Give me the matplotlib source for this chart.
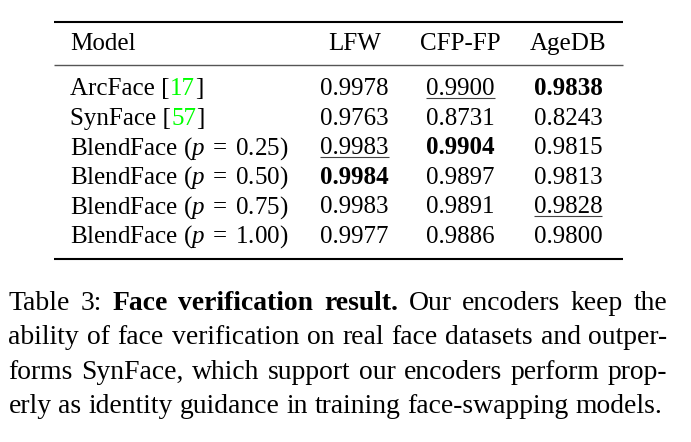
import matplotlib
matplotlib.use("Agg")
import matplotlib.pyplot as plt

plt.rcParams['font.family'] = ['Liberation Serif', 'DejaVu Serif']
plt.rcParams['mathtext.fontset'] = 'custom'
plt.rcParams['mathtext.rm'] = 'Liberation Serif'
plt.rcParams['mathtext.it'] = 'Liberation Serif:italic'
plt.rcParams['mathtext.bf'] = 'Liberation Serif:bold'

# ---- data ----
columns = ["Model", "LFW", "CFP-FP", "AgeDB"]
model_names = ["ArcFace", "SynFace", "BlendFace", "BlendFace", "BlendFace", "BlendFace"]
model_cites = ["17", "57", None, None, None, None]
model_p = [None, None, "0.25", "0.50", "0.75", "1.00"]
lfw = [0.9978, 0.9763, 0.9983, 0.9984, 0.9983, 0.9977]
cfp_fp = [0.9900, 0.8731, 0.9904, 0.9897, 0.9891, 0.9886]
agedb = [0.9838, 0.8243, 0.9815, 0.9813, 0.9828, 0.9800]
caption_lines = [
    [("Table", False), ("3:", False), ("Face", True), ("verification", True), ("result.", True),
     ("Our", False), ("encoders", False), ("keep", False), ("the", False)],
    [("ability", False), ("of", False), ("face", False), ("verification", False), ("on", False),
     ("real", False), ("face", False), ("datasets", False), ("and", False), ("outper-", False)],
    [("forms", False), ("SynFace,", False), ("which", False), ("support", False), ("our", False),
     ("encoders", False), ("perform", False), ("prop-", False)],
    [("erly", False), ("as", False), ("identity", False), ("guidance", False), ("in", False),
     ("training", False), ("face-swapping", False), ("models.", False)],
]

FS = 18.0
CFS = 19.9
W, H = 691, 442
fig = plt.figure(figsize=(W / 100, H / 100), dpi=100)
ax = fig.add_axes([0, 0, 1, 1])
ax.set_xlim(0, W)
ax.set_ylim(H, 0)
ax.axis('off')
fig.canvas.draw()
renderer = fig.canvas.get_renderer()


def width_of(t):
    return t.get_window_extent(renderer).width


def measure(s, size, **kw):
    t = ax.text(0, 0, s, fontsize=size, **kw)
    w = width_of(t)
    t.remove()
    return w


def draw_segments(x, y, segs, size):
    # each segment is right-aligned at the right edge of the measured prefix
    prefix = ""
    for s, kw in segs:
        prefix += s
        xr = x + measure(prefix, size)
        ax.text(xr, y, s, fontsize=size, va='baseline', ha='right', **kw)


# rules
x_left, x_right = 54, 623
ax.plot([x_left, x_right], [22, 22], color='black', lw=1.5, solid_capstyle='butt')
ax.plot([x_left, x_right], [64.5, 64.5], color='#555555', lw=1.0, solid_capstyle='butt')
ax.plot([x_left, x_right], [259, 259], color='black', lw=1.5, solid_capstyle='butt')

col_x = [70.5, 354.5, 460.5, 568]
header_y = 50
ax.text(col_x[0], header_y, columns[0], fontsize=FS, va='baseline', ha='left')
for j in range(1, 4):
    ax.text(col_x[j], header_y, columns[j], fontsize=FS, va='baseline', ha='center')

row_y0 = 95
row_dy = 29.6


def ranks(vals):
    distinct = sorted(set(vals), reverse=True)
    return vals.index(distinct[0]), vals.index(distinct[1])


for i in range(len(model_names)):
    y = row_y0 + i * row_dy
    if model_cites[i] is not None:
        segs = [(model_names[i] + " [", {}), (model_cites[i], {'color': '#00ff00'}), ("]", {})]
        draw_segments(col_x[0], y, segs, FS)
    else:
        ax.text(col_x[0], y, model_names[i] + r" ($p\;=\;$" + model_p[i] + ")",
                fontsize=FS, va='baseline', ha='left')

for j, vals in enumerate([lfw, cfp_fp, agedb], start=1):
    best, second = ranks(vals)
    for i, v in enumerate(vals):
        y = row_y0 + i * row_dy
        weight = 'bold' if i == best else 'normal'
        t = ax.text(col_x[j], y, f"{v:.4f}", fontsize=FS, va='baseline', ha='center',
                    fontweight=weight)
        if i == second:
            w = width_of(t)
            ax.plot([col_x[j] - w / 2, col_x[j] + w / 2], [y + 3, y + 3],
                    color='#444444', lw=0.8, solid_capstyle='butt')

# caption (justified)
cap_left, cap_right = 8.5, 667.5
cap_y0 = 310
cap_dy = 34.3
for li, words in enumerate(caption_lines):
    y = cap_y0 + li * cap_dy
    texts = []
    total = 0
    for w, b in words:
        t = ax.text(0, y, w, fontsize=CFS, va='baseline', ha='left',
                    fontweight='bold' if b else 'normal')
        texts.append(t)
        total += width_of(t)
    if li < len(caption_lines) - 1:
        gap = (cap_right - cap_left - total) / (len(words) - 1)
    else:
        gap = measure("a a", CFS) - measure("aa", CFS)
    x = cap_left
    for t in texts:
        t.set_x(x)
        x += width_of(t) + gap

fig.savefig("out.png", dpi=100)
